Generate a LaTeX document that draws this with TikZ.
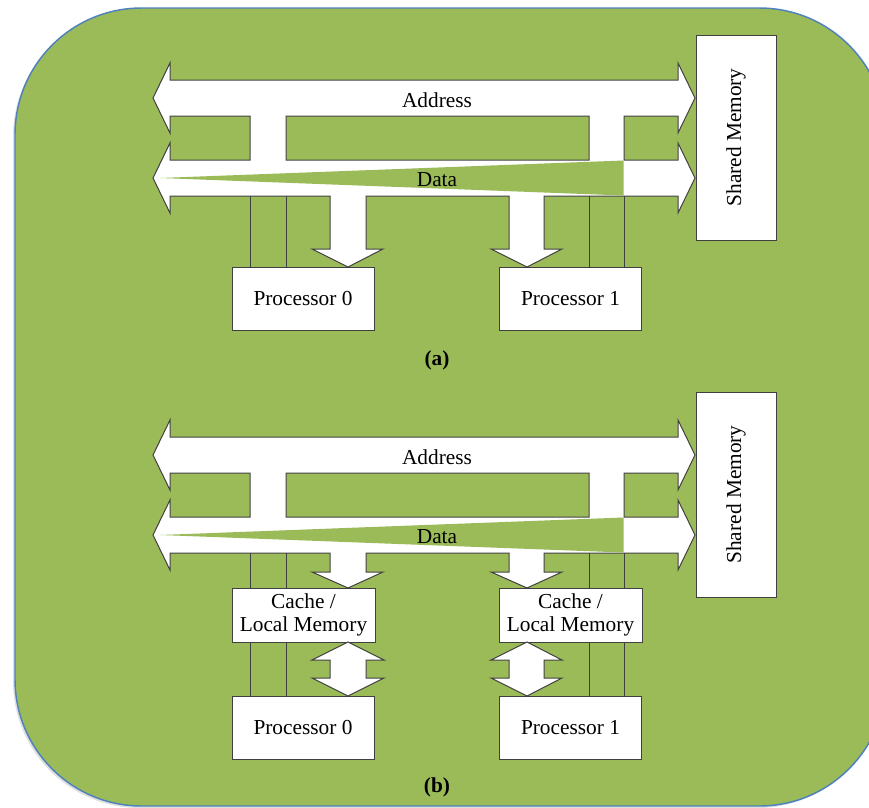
\documentclass[tikz,border=0pt]{standalone}
\usepackage{fontspec}
\setmainfont{Liberation Serif}
\usetikzlibrary{shadows}

\definecolor{panelgreen}{HTML}{9BBB59}
\definecolor{panelblue}{HTML}{4F81BD}

\begin{document}
\begin{tikzpicture}[
        x=0.75pt, y=-0.75pt,
        panel/.style={fill=panelgreen, draw=panelblue, line width=1.1pt, rounded corners=95pt,
            drop shadow={shadow xshift=-1.5pt, shadow yshift=-1.5pt, opacity=0.25}},
        bus/.style={fill=white, draw=black!75, line width=0.75pt, even odd rule, line join=miter},
        wedge/.style={fill=panelgreen},
        wire/.style={draw=black!75, line width=0.75pt},
        box/.style={draw=black!75, fill=white, line width=0.75pt, inner sep=0pt, outer sep=0pt,
            align=center, font=\fontsize{16}{17}\selectfont},
        bustext/.style={font=\fontsize{16}{18}\selectfont},
        figtag/.style={font=\fontsize{16}{18}\selectfont\bfseries}
    ]

        \useasboundingbox (0,0) rectangle (869,808);
        \draw[panel] (15,8) rectangle (886,806);

        % (a)
        \draw[bus] (153,98) -- (170,63) -- (170,80) -- (678,80) -- (678,63) -- (695,98) -- (678,133)
            -- (678,116) -- (624,116) -- (624,160) -- (678,160) -- (678,143) -- (695,178) -- (678,213)
            -- (678,196) -- (544,196) -- (544,249) -- (562,249) -- (527,267) -- (491,249) -- (509,249)
            -- (509,196) -- (366,196) -- (366,249) -- (383,249) -- (348,267) -- (312,249) -- (330,249)
            -- (330,196) -- (170,196) -- (170,213) -- (153,178) -- (170,143) -- (170,160) -- (250,160)
            -- (250,116) -- (170,116) -- (170,133) -- cycle
            (286,116) -- (589,116) -- (589,160) -- (286,160) -- cycle;
        \fill[wedge] (160,178) -- (623.5,160.5) -- (623.5,195.5) -- cycle;

        \node[bustext] (addra) at (437,100) {Address};
        \node[bustext] (dataa) at (437,180) {Data};

        \node[box, minimum width=106.5pt, minimum height=47.25pt] (p0a) at (303,298.5) {Processor 0};
        \node[box, minimum width=106.5pt, minimum height=47.25pt] (p1a) at (570.5,298.5) {Processor 1};
        \node[box, rotate=90, minimum width=153.75pt, minimum height=60pt] (sma) at (736,137.5) {Shared Memory};

        \coordinate (a0l) at (250,196);
        \coordinate (a0r) at (286,196);
        \coordinate (a1l) at (589,196);
        \coordinate (a1r) at (624,196);
        \draw[wire] (a0l) -- (a0l |- p0a.north);
        \draw[wire] (a0r) -- (a0r |- p0a.north);
        \draw[wire] (a1l) -- (a1l |- p1a.north);
        \draw[wire] (a1r) -- (a1r |- p1a.north);

        \node[figtag] (taga) at (437,360) {(a)};

        % (b)
        \draw[bus] (153,455) -- (170,420) -- (170,437) -- (678,437) -- (678,420) -- (695,455) -- (678,490)
            -- (678,473) -- (624,473) -- (624,517) -- (678,517) -- (678,500) -- (695,535) -- (678,570)
            -- (678,553) -- (544,553) -- (544,572) -- (562,572) -- (527,588) -- (491,572) -- (509,572)
            -- (509,553) -- (366,553) -- (366,572) -- (383,572) -- (348,588) -- (312,572) -- (330,572)
            -- (330,553) -- (170,553) -- (170,570) -- (153,535) -- (170,500) -- (170,517) -- (250,517)
            -- (250,473) -- (170,473) -- (170,490) -- cycle
            (286,473) -- (589,473) -- (589,517) -- (286,517) -- cycle;
        \fill[wedge] (160,535) -- (623.5,517.5) -- (623.5,552.5) -- cycle;

        \node[bustext] (addrb) at (437,457) {Address};
        \node[bustext] (datab) at (437,537) {Data};

        \node[box, minimum width=107.25pt, minimum height=40.5pt] (c0b) at (303.5,615) {Cache /\\Local Memory};
        \node[box, minimum width=107.25pt, minimum height=40.5pt] (c1b) at (570.5,615) {Cache /\\Local Memory};
        \node[box, minimum width=106.5pt, minimum height=47.25pt] (p0b) at (303,727.5) {Processor 0};
        \node[box, minimum width=106.5pt, minimum height=47.25pt] (p1b) at (570.5,727.5) {Processor 1};
        \node[box, rotate=90, minimum width=153.75pt, minimum height=60pt] (smb) at (736,494.5) {Shared Memory};

        \draw[bus] (348,642) -- (384,660) -- (366,660) -- (366,678) -- (384,678) -- (348,696)
            -- (312,678) -- (330,678) -- (330,660) -- (312,660) -- cycle;
        \draw[bus] (527,642) -- (562,660) -- (544,660) -- (544,678) -- (562,678) -- (527,696)
            -- (491,678) -- (509,678) -- (509,660) -- (491,660) -- cycle;

        \coordinate (b0l) at (250,553);
        \coordinate (b0r) at (286,553);
        \coordinate (b1l) at (589,553);
        \coordinate (b1r) at (624,553);
        \draw[wire] (b0l) -- (b0l |- c0b.north);
        \draw[wire] (b0r) -- (b0r |- c0b.north);
        \draw[wire] (b1l) -- (b1l |- c1b.north);
        \draw[wire] (b1r) -- (b1r |- c1b.north);
        \draw[wire] (b0l |- c0b.south) -- (b0l |- p0b.north);
        \draw[wire] (b0r |- c0b.south) -- (b0r |- p0b.north);
        \draw[wire] (b1l |- c1b.south) -- (b1l |- p1b.north);
        \draw[wire] (b1r |- c1b.south) -- (b1r |- p1b.north);

        \node[figtag] (tagb) at (437,787) {(b)};
    \end{tikzpicture}
\end{document}
